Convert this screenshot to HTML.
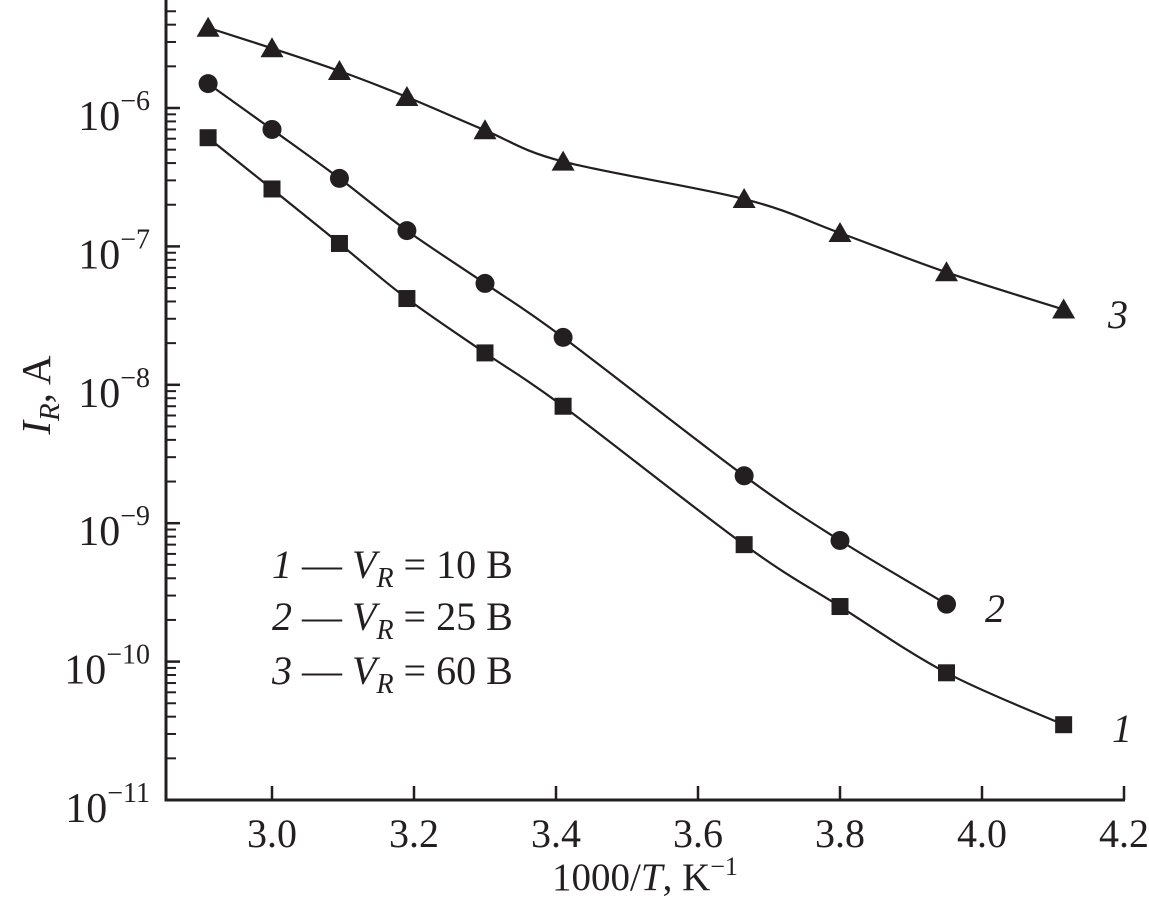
<!DOCTYPE html>
<html><head><meta charset="utf-8"><style>
html,body{margin:0;padding:0;background:#fff;}
svg{display:block;font-family:"Liberation Serif",serif;fill:#231f20;}
</style></head><body>
<svg id="chart" width="1149" height="910" viewBox="0 0 1149 910" xmlns="http://www.w3.org/2000/svg">
<g id="axes"></g>
<g id="series"></g>
<text transform="translate(50,395) rotate(-90)" text-anchor="middle" font-size="41"><tspan font-style="italic">I</tspan><tspan font-style="italic" font-size="29" dy="9">R</tspan><tspan dy="-9">, A</tspan></text>
<text x="645" y="890" text-anchor="middle" font-size="39">1000/<tspan font-style="italic">T</tspan>, K<tspan font-size="26" dy="-15">−1</tspan></text>
<g font-size="40">
<text x="272" y="578"><tspan font-style="italic">1</tspan> — <tspan font-style="italic">V</tspan><tspan font-style="italic" font-size="28" dy="9">R</tspan><tspan dy="-9"> = 10 B</tspan></text>
<text x="272" y="630"><tspan font-style="italic">2</tspan> — <tspan font-style="italic">V</tspan><tspan font-style="italic" font-size="28" dy="9">R</tspan><tspan dy="-9"> = 25 B</tspan></text>
<text x="272" y="684"><tspan font-style="italic">3</tspan> — <tspan font-style="italic">V</tspan><tspan font-style="italic" font-size="28" dy="9">R</tspan><tspan dy="-9"> = 60 B</tspan></text>
</g>
<text x="1108" y="328" font-size="40" font-style="italic">3</text>
<text x="985" y="622" font-size="40" font-style="italic">2</text>
<text x="1112" y="742" font-size="40" font-style="italic">1</text>
</svg>
<script>
const xs = [2.91, 3.0, 3.095, 3.19, 3.30, 3.41, 3.665, 3.80, 3.95, 4.115];
const s1 = [6.1e-7, 2.6e-7, 1.05e-7, 4.2e-8, 1.7e-8, 7e-9, 7e-10, 2.5e-10, 8.3e-11, 3.5e-11];
const s2 = [1.5e-6, 7e-7, 3.1e-7, 1.3e-7, 5.4e-8, 2.2e-8, 2.2e-9, 7.5e-10, 2.6e-10];
const s3 = [3.8e-6, 2.7e-6, 1.85e-6, 1.2e-6, 6.9e-7, 4.1e-7, 2.2e-7, 1.25e-7, 6.5e-8, 3.5e-8];
const xTicks = [3.0, 3.2, 3.4, 3.6, 3.8, 4.0, 4.2];
const yExps = [-11, -10, -9, -8, -7, -6];

const NS = "http://www.w3.org/2000/svg";
const X0 = 166, Y0 = 800;
function sx(v){ return 272 + (v - 3.0) / 0.2 * 142; }
function sy(v){ return 800 - (Math.log10(v) + 11) * 138.4; }
function mk(tag, attrs, parent){
  const e = document.createElementNS(NS, tag);
  for (const k in attrs) e.setAttribute(k, attrs[k]);
  parent.appendChild(e); return e;
}
const axes = document.getElementById('axes');
let a = mk('line', {x1:X0, y1:0, x2:X0, y2:Y0, stroke:'#231f20', 'stroke-width':3}, axes);


a = mk('line', {x1:X0-1.5, y1:Y0, x2:1125, y2:Y0, stroke:'#231f20', 'stroke-width':3}, axes);


xTicks.forEach(t => {
  const x = sx(t);
  const l = mk('line', {x1:x, y1:Y0, x2:x, y2:Y0-14, stroke:'#231f20', 'stroke-width':2.5}, axes);
  
  
  const tx = mk('text', {x:x, y:Y0+47, 'text-anchor':'middle', 'font-size':40}, axes);
  tx.textContent = t.toFixed(1);
  
  
});
yExps.forEach(e => {
  const y = sy(Math.pow(10, e));
  const l = mk('line', {x1:X0, y1:y, x2:X0+14, y2:y, stroke:'#231f20', 'stroke-width':2.5}, axes);
  
  
  for (let m = 2; m <= 9; m++) {
    const yy = sy(m * Math.pow(10, e));
    if (yy < 2) continue;
    const ml = mk('line', {x1:X0, y1:yy, x2:X0+10, y2:yy, stroke:'#231f20', 'stroke-width':2}, axes);
    
    
  }
  const tx = mk('text', {x:150, y:y+22, 'text-anchor':'end', 'font-size':42}, axes);
  tx.innerHTML = '10<tspan font-size="28" dy="-20">−' + (-e) + '</tspan>';
  
  
});

function pathFor(vals){
  const p = vals.map((v,i) => [sx(xs[i]), sy(v)]);
  let d = 'M' + p[0][0] + ',' + p[0][1];
  for (let i = 0; i < p.length - 1; i++) {
    const p0 = p[Math.max(0,i-1)], p1 = p[i], p2 = p[i+1], p3 = p[Math.min(p.length-1,i+2)];
    const c1 = [p1[0] + (p2[0]-p0[0])/6, p1[1] + (p2[1]-p0[1])/6];
    const c2 = [p2[0] - (p3[0]-p1[0])/6, p2[1] - (p3[1]-p1[1])/6];
    d += ' C' + c1 + ' ' + c2 + ' ' + p2;
  }
  return d;
}
const series = document.getElementById('series');
[[s1,'square','series-1'],[s2,'circle','series-2'],[s3,'triangle','series-3']].forEach(([vals, shape, name]) => {
  const g = mk('g', {}, series);
  
  
  const ln = mk('path', {d:pathFor(vals), fill:'none', stroke:'#231f20', 'stroke-width':2.2}, g);
  
  
  vals.forEach((v,i) => {
    const x = sx(xs[i]), y = sy(v);
    let m;
    if (shape === 'square') m = mk('rect', {x:x-8.5, y:y-8.5, width:17, height:17, fill:'#231f20'}, g);
    else if (shape === 'circle') m = mk('circle', {cx:x, cy:y, r:9.5, fill:'#231f20'}, g);
    else m = mk('polygon', {points:(x)+','+(y-11)+' '+(x-11.5)+','+(y+9)+' '+(x+11.5)+','+(y+9), fill:'#231f20'}, g);
    
    
  });
});
</script>
</body></html>
